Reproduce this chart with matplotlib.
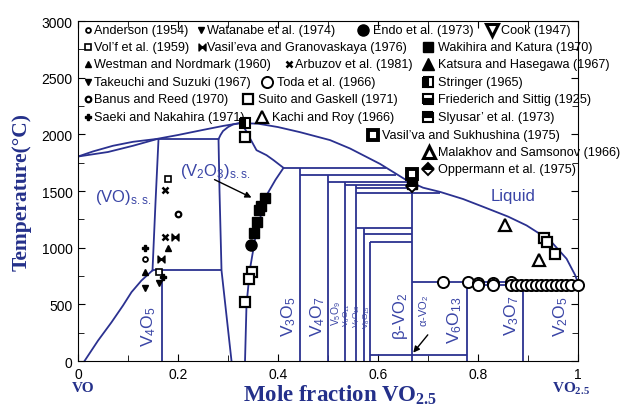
import matplotlib.pyplot as plt
import numpy as np
from matplotlib.path import Path

plt.rcParams['font.family'] = ['Liberation Sans', 'DejaVu Sans']
plt.rcParams['mathtext.default'] = 'regular'

# phase boundaries, x = mole fraction VO2.5, T in deg C
liq_x = [0, 0.03, 0.07, 0.11, 0.157, 0.20, 0.25, 0.29, 0.324, 0.36, 0.40, 0.444,
         0.504, 0.544, 0.604, 0.658, 0.69, 0.724, 0.77, 0.811, 0.86, 0.897, 0.944,
         0.977, 0.994, 1.0]
liq_T = [1805, 1850, 1900, 1935, 1960, 1995, 2040, 2075, 2100, 2095, 2065, 2020,
         1950, 1876, 1740, 1593, 1530, 1493, 1430, 1360, 1275, 1197, 1065,
         903, 760, 690]

vo_sol_x = [0, 0.06, 0.11, 0.157]
vo_sol_T = [1805, 1845, 1900, 1958]

vo_ss_x = [0.161, 0.155, 0.149]
vo_ss_T = [1958, 1400, 800]

vo_low_x = [0.013, 0.04, 0.067, 0.09, 0.107, 0.127, 0.149]
vo_low_T = [0, 180, 342, 490, 608, 711, 800]

v2o3_left_x = [0.281, 0.283, 0.287, 0.297, 0.307]
v2o3_left_T = [1958, 1500, 800, 400, 0]

v2o3_sol_x = [0.281, 0.285, 0.29, 0.30, 0.31, 0.324]
v2o3_sol_T = [1958, 1995, 2030, 2065, 2088, 2100]

v2o3_right_x = [0.324, 0.33, 0.337, 0.344, 0.357, 0.377, 0.391, 0.411,
                0.395, 0.377, 0.364, 0.355, 0.344, 0.337, 0.334]
v2o3_right_T = [2100, 2075, 2025, 1965, 1861, 1817, 1773, 1705,
                1600, 1463, 1257, 1100, 814, 500, 0]

# line compounds: composition and upper stability limit
cmpd_x = [0.167, 0.444, 0.5, 0.533, 0.556, 0.571, 0.583, 0.667, 0.778, 0.889]
cmpd_top = [800, 1705, 1646, 1581, 1551, 1174, 1050, 1575, 700, 672]

# invariant / transition lines
inv_T = [1958, 800, 1705, 1646, 1581, 1551, 1528, 1480, 1174, 1124, 1050, 700, 672, 55]
inv_x0 = [0.157, 0.149, 0.411, 0.444, 0.5, 0.533, 0.556, 0.556, 0.556, 0.571, 0.583, 0.667, 0.778, 0.583]
inv_x1 = [0.281, 0.287, 0.615, 0.635, 0.662, 0.667, 0.667, 0.724, 0.667, 0.667, 0.667, 0.889, 1.0, 0.778]

# experimental points
anderson_x, anderson_T = [0.133], [903]
watanabe_x, watanabe_T = [0.162], [690]
endo_x, endo_T = [0.345], [1027]
volf_x, volf_T = [0.179, 0.161], [1611, 790]
vasileva_x, vasileva_T = [0.193, 0.165], [1094, 903]
westman_x, westman_T = [0.179, 0.133], [997, 790]
arbuzov_x, arbuzov_T = [0.173, 0.173], [1507, 1094]
takeuchi_x, takeuchi_T = [0.133], [643]
toda_x = [0.73, 0.78, 0.80, 0.80, 0.83, 0.83, 0.865, 0.865, 0.875, 0.885, 0.895,
          0.905, 0.915, 0.925, 0.935, 0.945, 0.955, 0.965, 0.975, 0.985, 1.0]
toda_T = [700, 700, 690, 668, 692, 668, 695, 670, 670, 670, 670,
          670, 670, 670, 670, 670, 670, 670, 670, 670, 675]
banus_x, banus_T = [0.199], [1301]
suito_x = [0.334, 0.347, 0.341, 0.334, 0.931, 0.937, 0.954]
suito_T = [1980, 785, 726, 525, 1086, 1050, 947]
saeki_x, saeki_T = [0.133, 0.17], [1000, 740]
kachi_x, kachi_T = [0.854, 0.921], [1204, 888]
wakihira_x = [0.374, 0.366, 0.362, 0.357, 0.351, 0.667]
wakihira_T = [1435, 1365, 1330, 1230, 1130, 1565]
stringer_x, stringer_T = [0.334], [2097]
sukhushina_x, sukhushina_T = [0.667], [1648]
oppermann_x, oppermann_T = [0.667], [1545]

xtick_vals = [0, 0.2, 0.4, 0.6, 0.8, 1.0]
xtick_labels = ['0', '0.2', '0.4', '0.6', '0.8', '1']

line_c = '#2b3190'
text_c = '#3a45a6'
bowtie = Path([(-1, -1), (1, 1), (1, -1), (-1, 1), (-1, -1)],
              [Path.MOVETO, Path.LINETO, Path.LINETO, Path.LINETO, Path.CLOSEPOLY])

sty = {
    'Anderson (1954)': dict(marker='o', ms=3.5, mfc='white', mec='k', mew=1.3),
    'Watanabe et al. (1974)': dict(marker='v', ms=4, mfc='k', mec='k'),
    'Endo et al. (1973)': dict(marker='o', ms=8, mfc='k', mec='k'),
    'Cook (1947)': dict(marker='v', ms=8, mfc='white', mec='k', mew=2.2),
    'Vol\u2019f et al. (1959)': dict(marker='s', ms=4, mfc='white', mec='k', mew=1.2),
    'Vasil\u2019eva and Granovaskaya (1976)': dict(marker=bowtie, ms=5, mfc='k', mec='k'),
    'Westman and Nordmark (1960)': dict(marker='^', ms=4.5, mfc='k', mec='k'),
    'Arbuzov et al. (1981)': dict(marker='x', ms=4.5, mec='k', mew=1.8),
    'Takeuchi and Suzuki (1967)': dict(marker='v', ms=5, mfc='k', mec='k'),
    'Toda et al. (1966)': dict(marker='o', ms=8, mfc='white', mec='k', mew=1.4),
    'Banus and Reed (1970)': dict(marker='o', ms=4, mfc='white', mec='k', mew=1.6),
    'Suito and Gaskell (1971)': dict(marker='s', ms=7, mfc='white', mec='k', mew=1.6),
    'Saeki and Nakahira (1971)': dict(marker='P', ms=4.5, mfc='k', mec='k'),
    'Kachi and Roy (1966)': dict(marker='^', ms=8, mfc='white', mec='k', mew=1.6),
    'Wakihira and Katura (1970)': dict(marker='s', ms=7, mfc='k', mec='k'),
    'Katsura and Hasegawa (1967)': dict(marker='^', ms=8, mfc='k', mec='k'),
    'Stringer (1965)': dict(marker='s', ms=7, fillstyle='left', mfc='k',
                            markerfacecoloralt='white', mec='k', mew=1.5),
    'Friederich and Sittig (1925)': dict(marker='s', ms=7, fillstyle='bottom', mfc='k',
                                         markerfacecoloralt='white', mec='k', mew=1.5),
    'Slyusar\u2019 et al. (1973)': dict(marker='s', ms=7, fillstyle='top', mfc='k',
                                     markerfacecoloralt='white', mec='k', mew=1.5),
    'Vasil\u2019va and Sukhushina (1975)': dict(marker='s', ms=7, mfc='white', mec='k', mew=2.8),
    'Malakhov and Samsonov (1966)': dict(marker='^', ms=8, mfc='white', mec='k', mew=2.2),
    'Oppermann et al. (1975)': dict(marker='D', ms=6.5, fillstyle='top', mfc='k',
                                    markerfacecoloralt='white', mec='k', mew=1.4),
}

fig = plt.figure(figsize=(6.29, 4.10), dpi=100)
ax = fig.add_axes([0.124, 0.117, 0.795, 0.829])

lw = 1.3
for xs, ts in [(liq_x, liq_T), (vo_sol_x, vo_sol_T), (vo_ss_x, vo_ss_T),
               (vo_low_x, vo_low_T), (v2o3_left_x, v2o3_left_T),
               (v2o3_sol_x, v2o3_sol_T), (v2o3_right_x, v2o3_right_T)]:
    ax.plot(xs, ts, color=line_c, lw=lw)
ax.vlines(cmpd_x, 0, cmpd_top, color=line_c, lw=lw)
ax.hlines(inv_T, inv_x0, inv_x1, color=line_c, lw=lw)

pts = [('Anderson (1954)', anderson_x, anderson_T),
       ('Watanabe et al. (1974)', watanabe_x, watanabe_T),
       ('Vol\u2019f et al. (1959)', volf_x, volf_T),
       ('Vasil\u2019eva and Granovaskaya (1976)', vasileva_x, vasileva_T),
       ('Westman and Nordmark (1960)', westman_x, westman_T),
       ('Arbuzov et al. (1981)', arbuzov_x, arbuzov_T),
       ('Takeuchi and Suzuki (1967)', takeuchi_x, takeuchi_T),
       ('Toda et al. (1966)', toda_x, toda_T),
       ('Banus and Reed (1970)', banus_x, banus_T),
       ('Suito and Gaskell (1971)', suito_x, suito_T),
       ('Saeki and Nakahira (1971)', saeki_x, saeki_T),
       ('Kachi and Roy (1966)', kachi_x, kachi_T),
       ('Wakihira and Katura (1970)', wakihira_x, wakihira_T),
       ('Endo et al. (1973)', endo_x, endo_T),
       ('Stringer (1965)', stringer_x, stringer_T),
       ('Vasil\u2019va and Sukhushina (1975)', sukhushina_x, sukhushina_T),
       ('Oppermann et al. (1975)', oppermann_x, oppermann_T)]
for name, xs, ts in pts:
    ax.plot(xs, ts, ls='none', clip_on=False, zorder=5, **sty[name])

# legend drawn by hand: (name, marker px, text px, row px)
legend_rows = [
    ('Anderson (1954)', 88, 94, 31), ('Watanabe et al. (1974)', 201, 207, 31),
    ('Endo et al. (1973)', 363, 373, 31), ('Cook (1947)', 492, 501, 31),
    ('Vol\u2019f et al. (1959)', 88, 94, 48),
    ('Vasil\u2019eva and Granovaskaya (1976)', 202, 207, 48),
    ('Wakihira and Katura (1970)', 428, 438, 48),
    ('Westman and Nordmark (1960)', 88, 94, 65), ('Arbuzov et al. (1981)', 289, 295, 65),
    ('Katsura and Hasegawa (1967)', 428, 438, 65),
    ('Takeuchi and Suzuki (1967)', 88, 94, 83), ('Toda et al. (1966)', 267, 277, 83),
    ('Stringer (1965)', 428, 438, 83),
    ('Banus and Reed (1970)', 88, 94, 100), ('Suito and Gaskell (1971)', 248, 258, 100),
    ('Friederich and Sittig (1925)', 428, 438, 100),
    ('Saeki and Nakahira (1971)', 88, 94, 118), ('Kachi and Roy (1966)', 262, 272, 118),
    ('Slyusar\u2019 et al. (1973)', 428, 438, 118),
    ('Vasil\u2019va and Sukhushina (1975)', 373, 382, 136),
    ('Malakhov and Samsonov (1966)', 429, 438, 153),
    ('Oppermann et al. (1975)', 428, 438, 170),
]
fx = lambda px: (px - 78) / 500.0
fy = lambda py: (362 - py) / 340.0
for name, mx, tx, ry in legend_rows:
    ax.plot([fx(mx)], [fy(ry)], transform=ax.transAxes, clip_on=False, ls='none', **sty[name])
    ax.text(fx(tx), fy(ry), name, transform=ax.transAxes, fontsize=9.1,
            ha='left', va='center')

# region and compound labels
ax.text(0.034, 1450, '(VO)$_{s.s.}$', color=text_c, fontsize=12, va='center')
ax.text(0.204, 1684, '(V$_2$O$_3$)$_{s.s.}$', color=text_c, fontsize=12, va='center')
ax.annotate('', xy=(0.352, 1432), xytext=(0.268, 1612),
            arrowprops=dict(arrowstyle='-|>', color='k', lw=1, mutation_scale=9))
ax.text(0.87, 1463, 'Liquid', color=text_c, fontsize=12, ha='center', va='center')

vlabels = [('V$_4$O$_5$', 0.141, 312, 12.5), ('V$_3$O$_5$', 0.421, 400, 12.5),
           ('V$_4$O$_7$', 0.479, 400, 12.5), ('V$_5$O$_9$', 0.516, 430, 7.4),
           ('V$_6$O$_{11}$', 0.538, 415, 6.0), ('V$_7$O$_{13}$', 0.558, 405, 6.0),
           ('V$_8$O$_{15}$', 0.578, 400, 6.0), ('\u03b2-VO$_2$', 0.645, 400, 12),
           ('\u03b1-VO$_2$', 0.693, 450, 8), ('V$_6$O$_{13}$', 0.754, 372, 12.5),
           ('V$_3$O$_7$', 0.867, 410, 12.5), ('V$_2$O$_5$', 0.966, 400, 12.5)]
for s, x, t, fs in vlabels:
    ax.text(x, t, s, rotation=90, color=text_c, fontsize=fs, ha='center', va='center')
ax.annotate('', xy=(0.667, 55), xytext=(0.703, 250),
            arrowprops=dict(arrowstyle='-|>', color='k', lw=1, mutation_scale=9))

ax.set_xlim(0, 1)
ax.set_ylim(0, 3000)
ax.set_xticks(xtick_vals)
ax.set_xticklabels(xtick_labels)
ax.set_xticks(np.arange(0.1, 1.0, 0.2), minor=True)
ax.set_yticks(np.arange(0, 3001, 500))
ax.set_yticks(np.arange(250, 3000, 500), minor=True)
ax.tick_params(which='both', direction='in', top=True, right=True, labelsize=10, pad=4)
ax.tick_params(which='major', length=5)
ax.tick_params(which='minor', length=4)

serif = ['Liberation Serif', 'DejaVu Serif']
ax.text(-0.112, 0.5, 'Temperature(\u00b0C)', transform=ax.transAxes, rotation=90,
        ha='center', va='center', fontsize=15.5, fontweight='bold', family=serif, color='#24308a')
ax.text(0.525, -0.097, 'Mole fraction VO$_{2.5}$', transform=ax.transAxes,
        ha='center', va='center', fontsize=16.5, fontweight='bold', family=serif, color='#24308a')
ax.text(0.01, -0.078, 'VO', transform=ax.transAxes, ha='center', va='center',
        fontsize=11, fontweight='bold', family=serif, color='#24308a')
ax.text(0.985, -0.078, 'VO$_{2.5}$', transform=ax.transAxes, ha='center', va='center',
        fontsize=11, fontweight='bold', family=serif, color='#24308a')

fig.savefig('out.png', dpi=100)
